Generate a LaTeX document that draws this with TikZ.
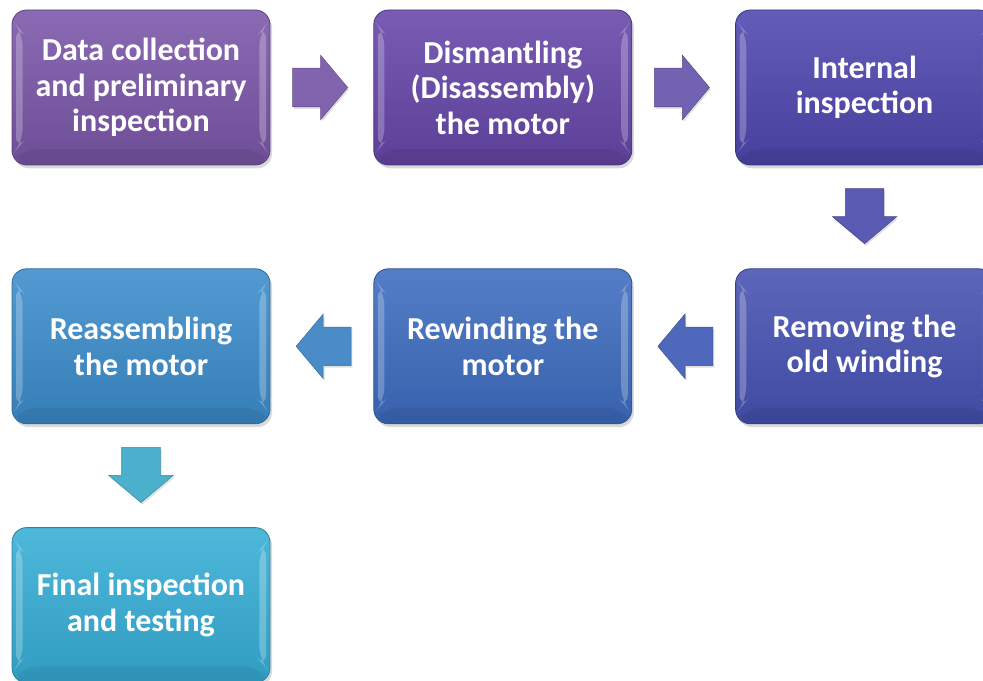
\documentclass[tikz,border=0pt]{standalone}
\usepackage{fontspec}
\setmainfont{Carlito}
\usetikzlibrary{positioning,calc,shapes.arrows,shadows}

\definecolor{cCollect}{HTML}{7A56A8}
\definecolor{cDismantle}{HTML}{6646A8}
\definecolor{cInspect}{HTML}{4E46AE}
\definecolor{cRemove}{HTML}{4652B2}
\definecolor{cRewind}{HTML}{3E6CC0}
\definecolor{cReassemble}{HTML}{3B8CCB}
\definecolor{cTesting}{HTML}{36AED6}
\definecolor{aOne}{HTML}{8264AE}
\definecolor{aTwo}{HTML}{7262B2}
\definecolor{aThree}{HTML}{5A5AB2}
\definecolor{aFour}{HTML}{5068BC}
\definecolor{aFive}{HTML}{4A8CC8}
\definecolor{aSix}{HTML}{4AB0CC}

\begin{document}
\begin{tikzpicture}[
    x=0.75pt, y=-0.75pt,
    node distance=77.25pt,
    every node/.style={font=\bfseries\fontsize{24}{26.6}\selectfont},
    box/.style={rounded corners=11pt, align=center, text=white, minimum width=193.5pt, minimum height=116.25pt,
        draw=#1!75!black, line width=0.6pt, top color=#1!88!white, bottom color=#1!90!black,
        drop shadow={opacity=0.3, shadow xshift=1.5pt, shadow yshift=-2.5pt},
        path picture={
            \fill[white, opacity=0.25] ([shift={(3pt,-11pt)}]path picture bounding box.north west) -- ([shift={(8pt,-17pt)}]path picture bounding box.north west)
                -- ([shift={(8pt,17pt)}]path picture bounding box.south west) -- ([shift={(3pt,11pt)}]path picture bounding box.south west) -- cycle;
            \fill[white, opacity=0.25] ([shift={(-3pt,-11pt)}]path picture bounding box.north east) -- ([shift={(-8pt,-17pt)}]path picture bounding box.north east)
                -- ([shift={(-8pt,17pt)}]path picture bounding box.south east) -- ([shift={(-3pt,11pt)}]path picture bounding box.south east) -- cycle;
            \fill[black, opacity=0.06] ([shift={(8pt,12pt)}]path picture bounding box.south west) -- ([shift={(-8pt,12pt)}]path picture bounding box.south east)
                -- (path picture bounding box.south east) -- (path picture bounding box.south west) -- cycle;
        }},
    flow/.style={single arrow, inner xsep=0pt, inner ysep=14.25pt, minimum height=41.25pt,
        single arrow head extend=9.75pt, single arrow tip angle=100,
        fill=#1, draw=#1!80!black, line width=0.4pt,
        drop shadow={opacity=0.25, shadow xshift=1pt, shadow yshift=-1.5pt}}
]
\useasboundingbox (0,0) rectangle (983,681);

% top row
\node[box=cCollect] (collect) at (141,87.5) {Data collection\\and preliminary\\inspection};
\node[box=cDismantle, right=of collect] (dismantle) {Dismantling\\(Disassembly)\\the motor};
\node[box=cInspect, right=of dismantle] (inspect) {Internal\\inspection};
% middle row, right to left
\node[box=cRemove, below=of inspect] (remove) {Removing the\\old winding};
\node[box=cRewind, left=of remove] (rewind) {Rewinding the\\motor};
\node[box=cReassemble, left=of rewind] (reassemble) {Reassembling\\the motor};
\node[box=cTesting, below=of reassemble] (testing) {Final inspection\\and testing};

% block arrows between the steps
\node[flow=aOne, right=16.5pt of collect, anchor=tail] (toDismantle) {};
\node[flow=aTwo, right=16.5pt of dismantle, anchor=tail] (toInspect) {};
\node[flow=aThree, rotate=-90, below=17.25pt of inspect, anchor=tail] (toRemove) {};
\node[flow=aFour, rotate=180, left=16.5pt of remove, anchor=tail] (toRewind) {};
\node[flow=aFive, rotate=180, left=16.5pt of rewind, anchor=tail] (toReassemble) {};
\node[flow=aSix, rotate=-90, below=17.25pt of reassemble, anchor=tail] (toTesting) {};
\end{tikzpicture}
\end{document}
